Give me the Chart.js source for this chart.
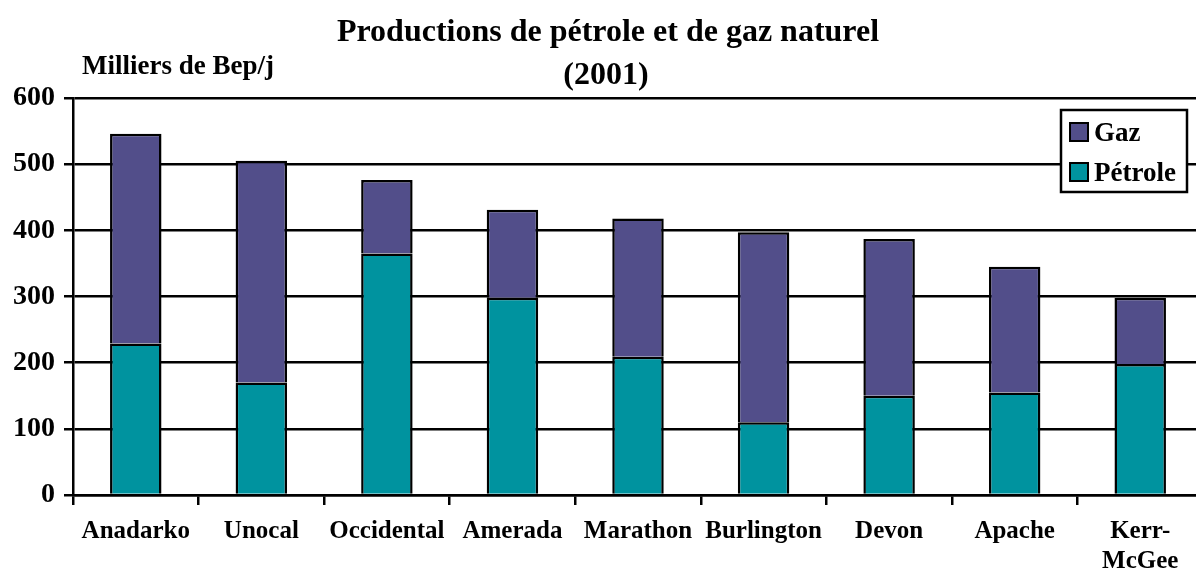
<!DOCTYPE html>
<html>
<head>
<meta charset="utf-8">
<script src="https://cdn.jsdelivr.net/npm/chart.js@4/dist/chart.umd.min.js"></script>
<style>
  html, body { margin: 0; padding: 0; background: #fff; overflow: hidden; }
  #wrap { position: absolute; left: 0; top: 0; width: 1210px; height: 571px; }
</style>
</head>
<body>
<div id="wrap"><canvas id="chart"></canvas></div>
<script>
// data (milliers de Bep/j)
const categories = ['Anadarko', 'Unocal', 'Occidental', 'Amerada', 'Marathon', 'Burlington', 'Devon', 'Apache', ['Kerr-', 'McGee']];
const petrole = [229, 170, 365, 298, 209, 110, 150, 155, 198];
const gaz = [317, 335, 111, 133, 209, 287, 237, 190, 100];
const yTicks = [0, 100, 200, 300, 400, 500, 600];

const serif = '"Liberation Serif", "Times New Roman", serif';
const colGaz = '#524e8a';
const colPet = '#00939f';

// title, unit label and boxed legend drawn on the canvas
const decor = {
  id: 'decor',
  afterDraw(chart) {
    const c = chart.ctx;
    c.save();
    c.fillStyle = '#000';
    c.textBaseline = 'alphabetic';
    c.font = 'bold 32px ' + serif;
    c.textAlign = 'center';
    c.fillText('Productions de pétrole et de gaz naturel', 608, 41);
    c.fillText('(2001)', 606, 84);
    c.textAlign = 'left';
    c.font = 'bold 27px ' + serif;
    c.fillText('Milliers de Bep/j', 82, 74);

    // legend
    c.fillStyle = '#fff';
    c.fillRect(1061, 110, 126, 82);
    c.lineWidth = 2.5;
    c.strokeStyle = '#000';
    c.strokeRect(1061, 110, 126, 82);
    const items = [['Gaz', colGaz, 123], ['Pétrole', colPet, 163]];
    items.forEach(([t, col, y]) => {
      c.fillStyle = col;
      c.fillRect(1070, y, 18, 18);
      c.lineWidth = 2;
      c.strokeRect(1070, y, 18, 18);
      c.fillStyle = '#000';
      c.font = 'bold 27px ' + serif;
      c.fillText(t, 1094, y + 18);
    });
    c.restore();
  }
};

new Chart(document.getElementById('chart'), {
  type: 'bar',
  data: {
    labels: categories,
    datasets: [
      { label: 'Pétrole', data: petrole, backgroundColor: colPet, borderColor: '#000', borderWidth: 2.5 },
      { label: 'Gaz', data: gaz, backgroundColor: colGaz, borderColor: '#000', borderWidth: 2.5 }
    ]
  },
  options: {
    responsive: true,
    maintainAspectRatio: false,
    animation: false,
    layout: { padding: { left: 0, right: 7, top: 98, bottom: 0 } },
    datasets: { bar: { categoryPercentage: 1, barPercentage: 0.41 } },
    plugins: { legend: { display: false }, title: { display: false }, tooltip: { enabled: false } },
    scales: {
      x: {
        stacked: true,
        grid: { drawOnChartArea: false, color: '#000', lineWidth: 2.5, tickLength: 10 },
        border: { color: '#000', width: 2.5 },
        ticks: {
          color: '#000', padding: 12, maxRotation: 0, autoSkip: false,
          font: { family: serif, size: 25, weight: 'bold', lineHeight: 1.2 }
        },
        afterFit(s) { s.height = 76; }
      },
      y: {
        stacked: true,
        min: 0, max: 600,
        afterBuildTicks(s) { s.ticks = yTicks.map(v => ({ value: v })); },
        grid: { color: '#000', lineWidth: 2.5, tickLength: 9 },
        border: { color: '#000', width: 2.5 },
        ticks: { color: '#000', padding: 9, font: { family: serif, size: 28, weight: 'bold' } },
        afterFit(s) { s.width = 73; }
      }
    }
  },
  plugins: [decor]
});
</script>
</body>
</html>
